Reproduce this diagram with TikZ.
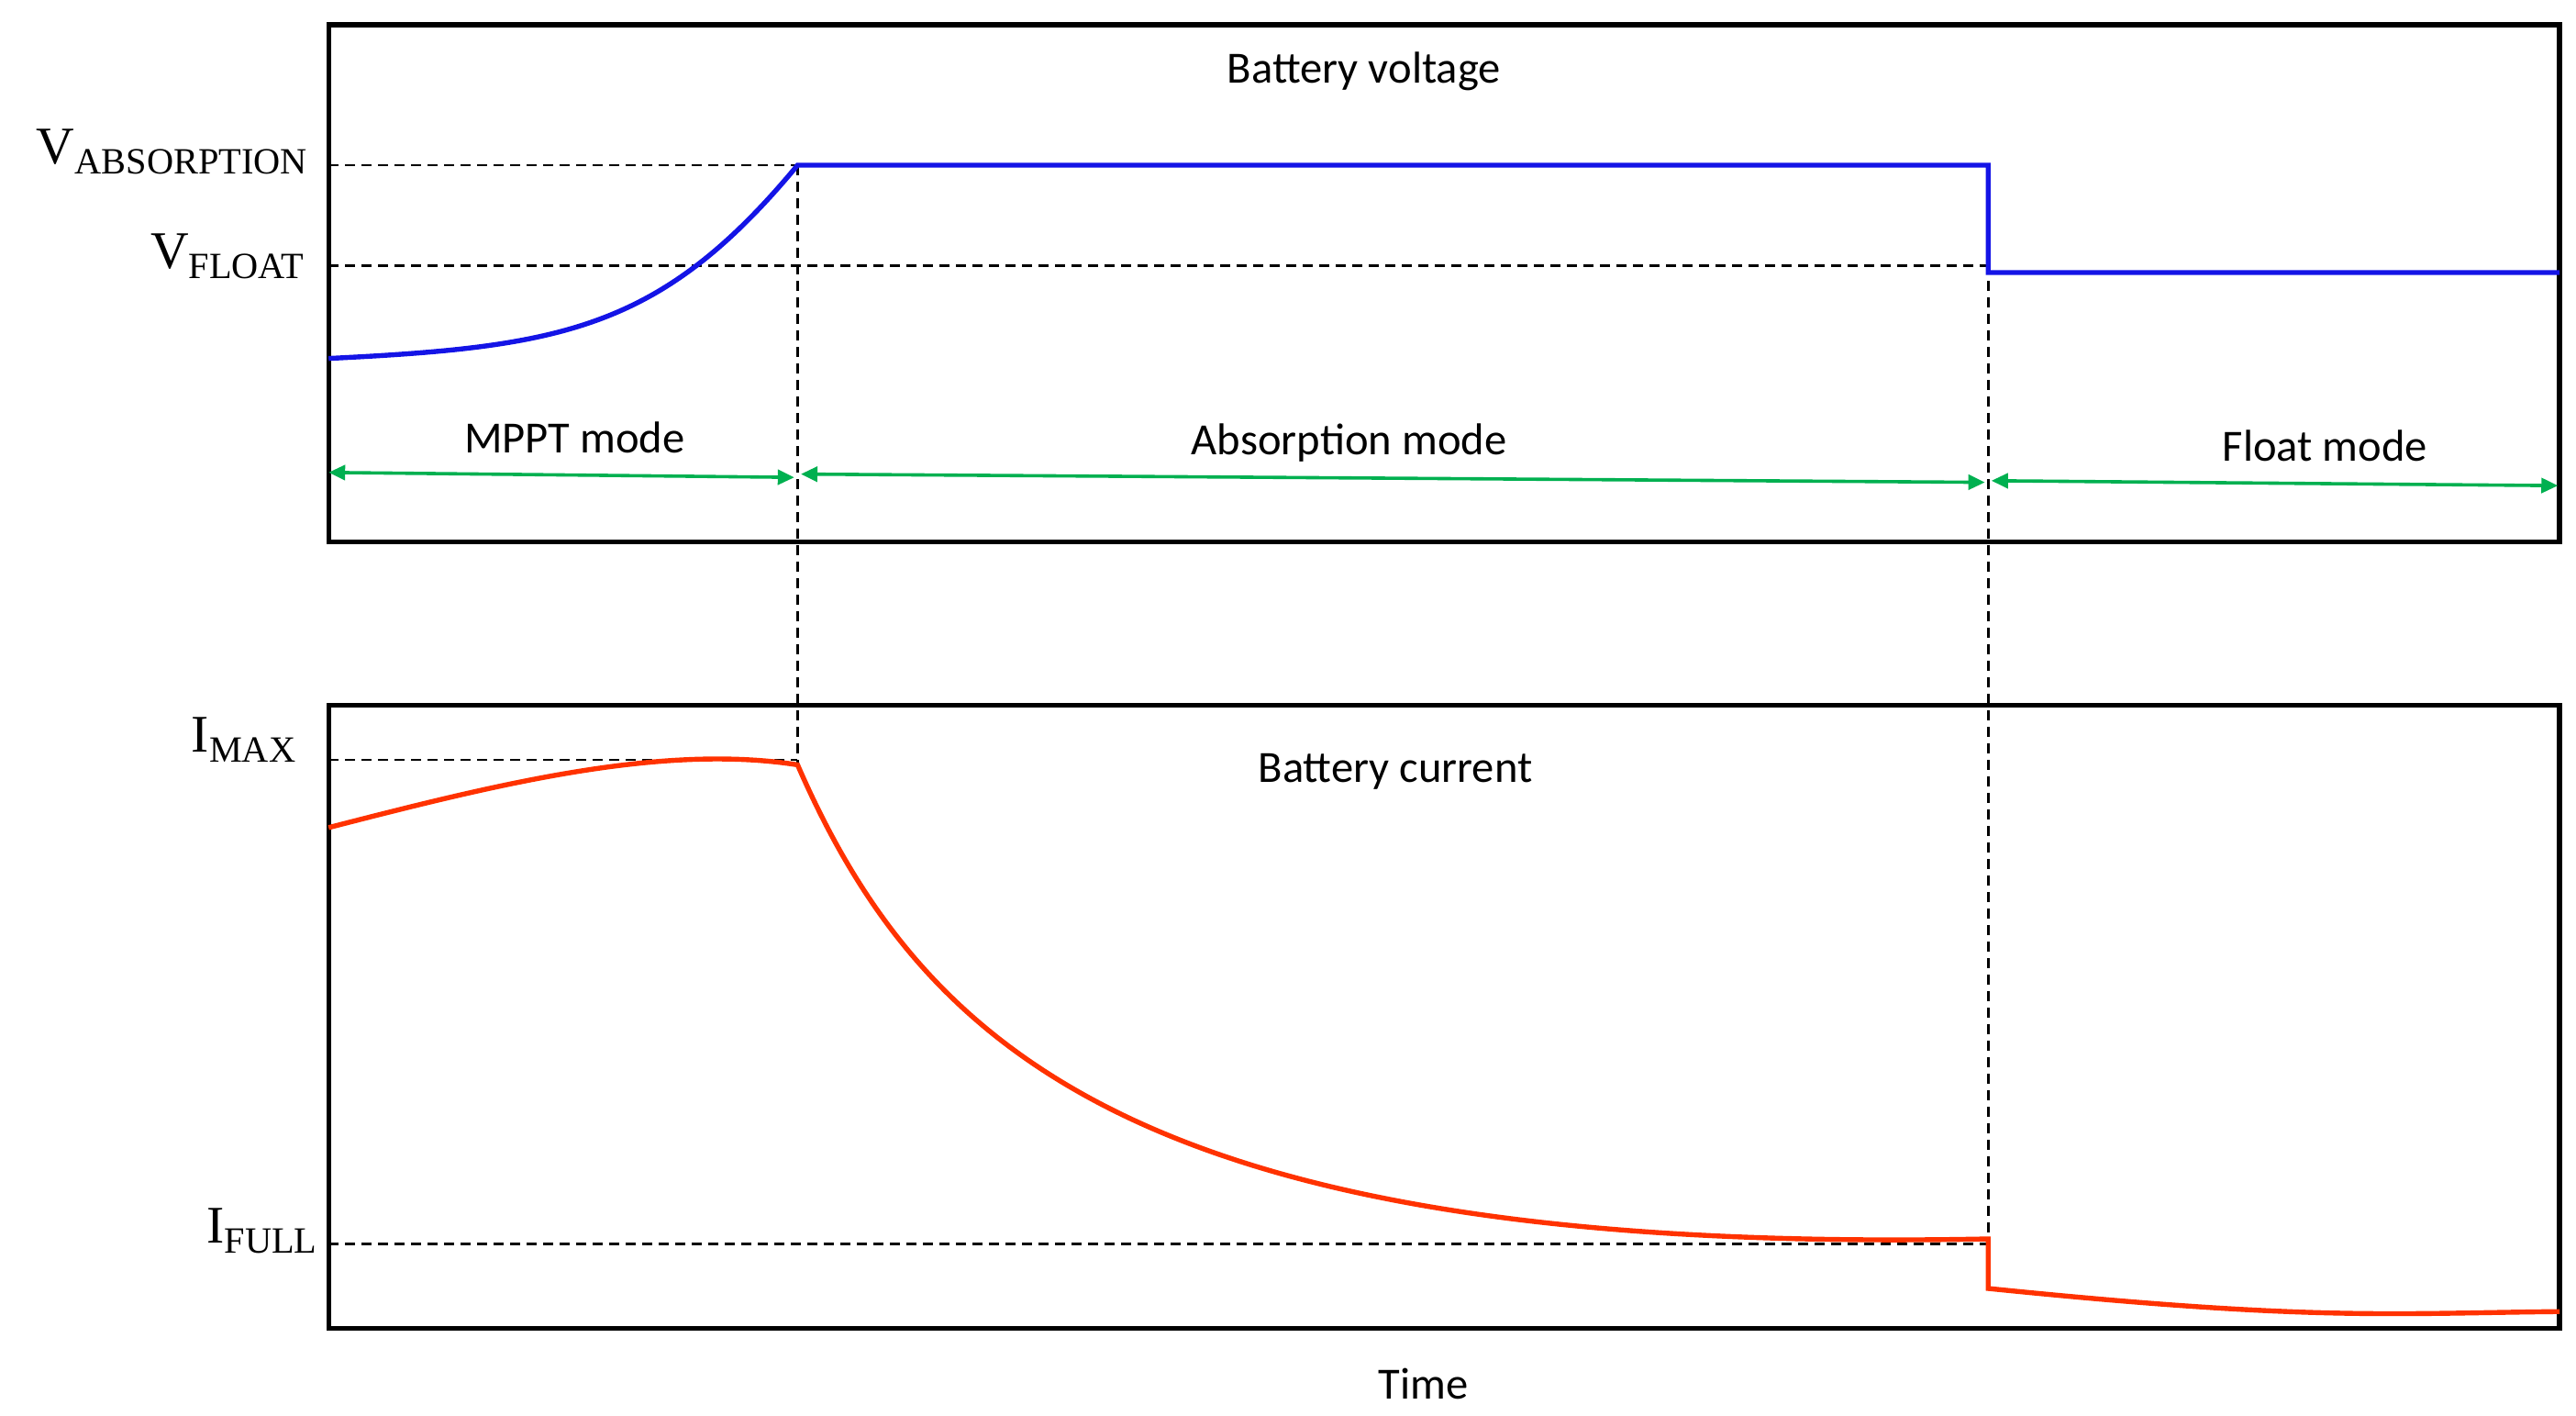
\documentclass[tikz,border=0pt]{standalone}
\usepackage{fontspec}
\setmainfont{Carlito}
\newfontfamily\serifT{Liberation Serif}
\usetikzlibrary{arrows.meta}
\definecolor{vblue}{RGB}{20,20,230}
\definecolor{ired}{RGB}{255,50,0}
\definecolor{agreen}{RGB}{0,176,80}
\begin{document}
\begin{tikzpicture}[x=1pt,y=-1pt,
  box/.style={line width=3pt},
  guide/.style={line width=1.5pt,dash pattern=on 6pt off 4pt},
  sig/.style={line width=3pt},
  marr/.style={agreen,line width=2pt,{Triangle[length=10pt,width=9pt]}-{Triangle[length=10pt,width=9pt]}},
  lab/.style={font=\fontsize{27}{30}\selectfont},
  vl/.style={font=\serifT\fontsize{32}{34}\selectfont,anchor=east}]
\useasboundingbox (0,0) rectangle (1560,857);
% dashed guides
\draw[guide] (199,100) -- (483,100);
\draw[guide] (199,161) -- (1204,161);
\draw[guide] (483,100) -- (483,463);
\draw[guide] (1204,100) -- (1204,752);
\draw[guide] (199,460) -- (483,460);
\draw[guide] (199,753) -- (1204,753);
% boxes
\draw[box] (199,15) rectangle (1550,328);
\draw[box] (199,427) rectangle (1550,804);
% voltage
\draw[sig,vblue] (199,217) .. controls (340,210) and (400,200) .. (483,100) -- (1204,100) -- (1204,165) -- (1550,165);
% current
\draw[sig,ired] (199,501) .. controls (300,475) and (400,450) .. (483,463)
  .. controls (560,640) and (700,760) .. (1204,750) -- (1204,780)
  .. controls (1400,800) and (1450,795) .. (1550,794);
% arrows
\coordinate (a1) at (199,286); \coordinate (a2) at (481,289);
\coordinate (b1) at (485,287); \coordinate (b2) at (1202,292);
\coordinate (c1) at (1206,291); \coordinate (c2) at (1549,294);
\draw[marr] (a1) -- (a2);
\draw[marr] (b1) -- (b2);
\draw[marr] (c1) -- (c2);
% labels
\node[lab] (t1) at (348,265) {MPPT mode};
\node[lab] (t2) at (817,268) {Absorption mode};
\node[lab] (t3) at (1408,270) {Float mode};
\node[lab] (t4) at (826,43) {Battery voltage};
\node[lab] (t5) at (845,467) {Battery current};
\node[lab] (t6) at (862,838) {Time};
\node[vl] (l1) at (190,92) {V\textsubscript{ABSORPTION}};
\node[vl] (l2) at (188,155) {V\textsubscript{FLOAT}};
\node[vl] (l3) at (183,448) {I\textsubscript{MAX}};
\node[vl] (l4) at (196,745) {I\textsubscript{FULL}};
\end{tikzpicture}
\end{document}
